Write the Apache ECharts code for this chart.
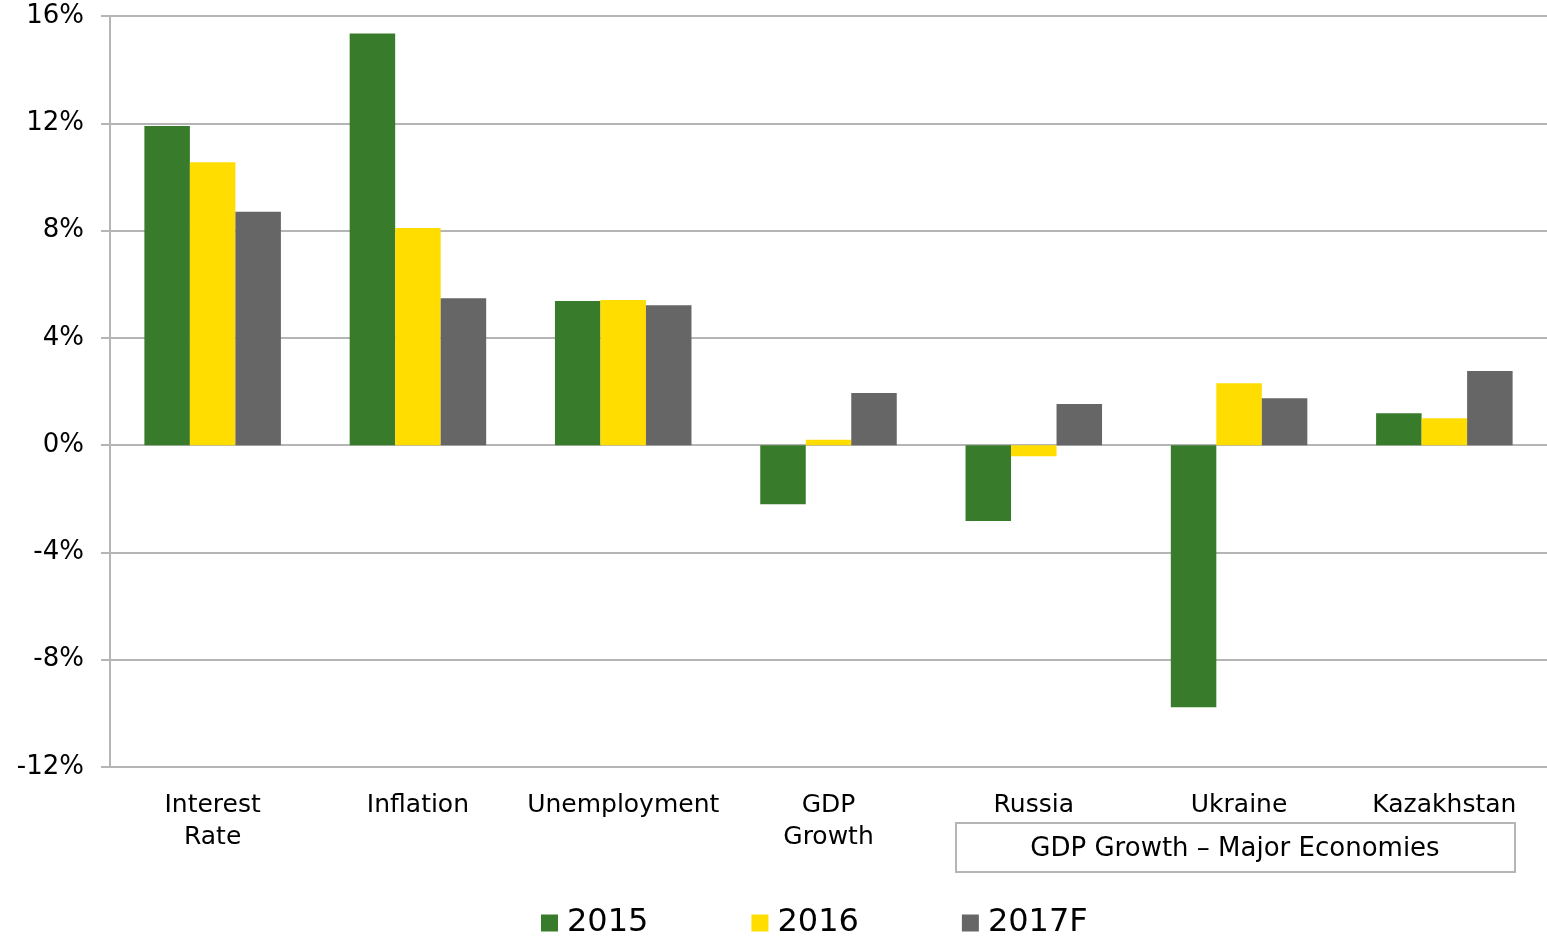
<!DOCTYPE html>
<html>
<head>
<meta charset="utf-8">
<script src="https://cdn.jsdelivr.net/npm/echarts@6/dist/echarts.min.js"></script>
<style>
  html, body { margin: 0; padding: 0; background: #fff; }
  #main { width: 1547px; height: 940px; }
</style>
</head>
<body>
<div id="main"></div>
<script>
// categories and values (percent)
var categories = ['Interest\nRate', 'Inflation', 'Unemployment', 'GDP\nGrowth', 'Russia', 'Ukraine', 'Kazakhstan']
var seriesNames = ['2015', '2016', '2017F']
var data2015 = [11.9, 15.35, 5.37, -2.2, -2.83, -9.77, 1.19]
var data2016 = [10.55, 8.1, 5.41, 0.2, -0.41, 2.31, 1.0]
var data2017F = [8.7, 5.48, 5.22, 1.94, 1.53, 1.75, 2.76]
var yTicks = [-12, -8, -4, 0, 4, 8, 12, 16]

var font = 'DejaVu Sans'
var colors = ['#387C2B', '#FFDD00', '#666666']

var chart = echarts.init(document.getElementById('main'))

var option = {
  animation: false,
  color: colors,
  textStyle: { fontFamily: font },
  grid: { left: 110, right: 0, top: 16, bottom: 173, containLabel: false },
  legend: {
    data: seriesNames,
    top: 902,
    left: 536,
    itemWidth: 17,
    itemHeight: 17,
    itemGap: 103,
    icon: 'rect',
    textStyle: { fontSize: 32, color: '#000', fontFamily: font, padding: [0, 0, 0, 4] }
  },
  xAxis: {
    type: 'category',
    data: categories,
    axisLine: { show: true, onZero: false, lineStyle: { color: '#B5B5B5', width: 2 } },
    axisTick: { show: false },
    axisLabel: { interval: 0, fontSize: 25, color: '#000', margin: 22, lineHeight: 32, fontFamily: font }
  },
  yAxis: {
    type: 'value',
    min: yTicks[0],
    max: yTicks[yTicks.length - 1],
    interval: 4,
    axisLine: { show: true, lineStyle: { color: '#B5B5B5', width: 2 } },
    axisTick: { show: true, length: 9, lineStyle: { color: '#B5B5B5', width: 2 } },
    axisLabel: {
      fontSize: 26, color: '#000', margin: 26, fontFamily: font,
      formatter: function (v) { return v + '%' }
    },
    splitLine: { show: true, lineStyle: { color: '#B5B5B5', width: 2 } }
  },
  series: [
    { name: seriesNames[0], type: 'bar', data: data2015, barGap: 0, barCategoryGap: '33.5%' },
    { name: seriesNames[1], type: 'bar', data: data2016, barGap: 0, barCategoryGap: '33.5%' },
    { name: seriesNames[2], type: 'bar', data: data2017F, barGap: 0, barCategoryGap: '33.5%' }
  ],
  graphic: [
    {
      type: 'rect',
      left: 955, top: 822,
      shape: { width: 559, height: 49 },
      style: { fill: '#fff', stroke: '#B5B5B5', lineWidth: 2 }
    },
    {
      type: 'text',
      x: 1235, y: 849,
      style: {
        text: 'GDP Growth – Major Economies', fontSize: 26, fill: '#000', fontFamily: font,
        textAlign: 'center', textVerticalAlign: 'middle'
      }
    }
  ]
}

chart.setOption(option)
</script>
</body>
</html>
